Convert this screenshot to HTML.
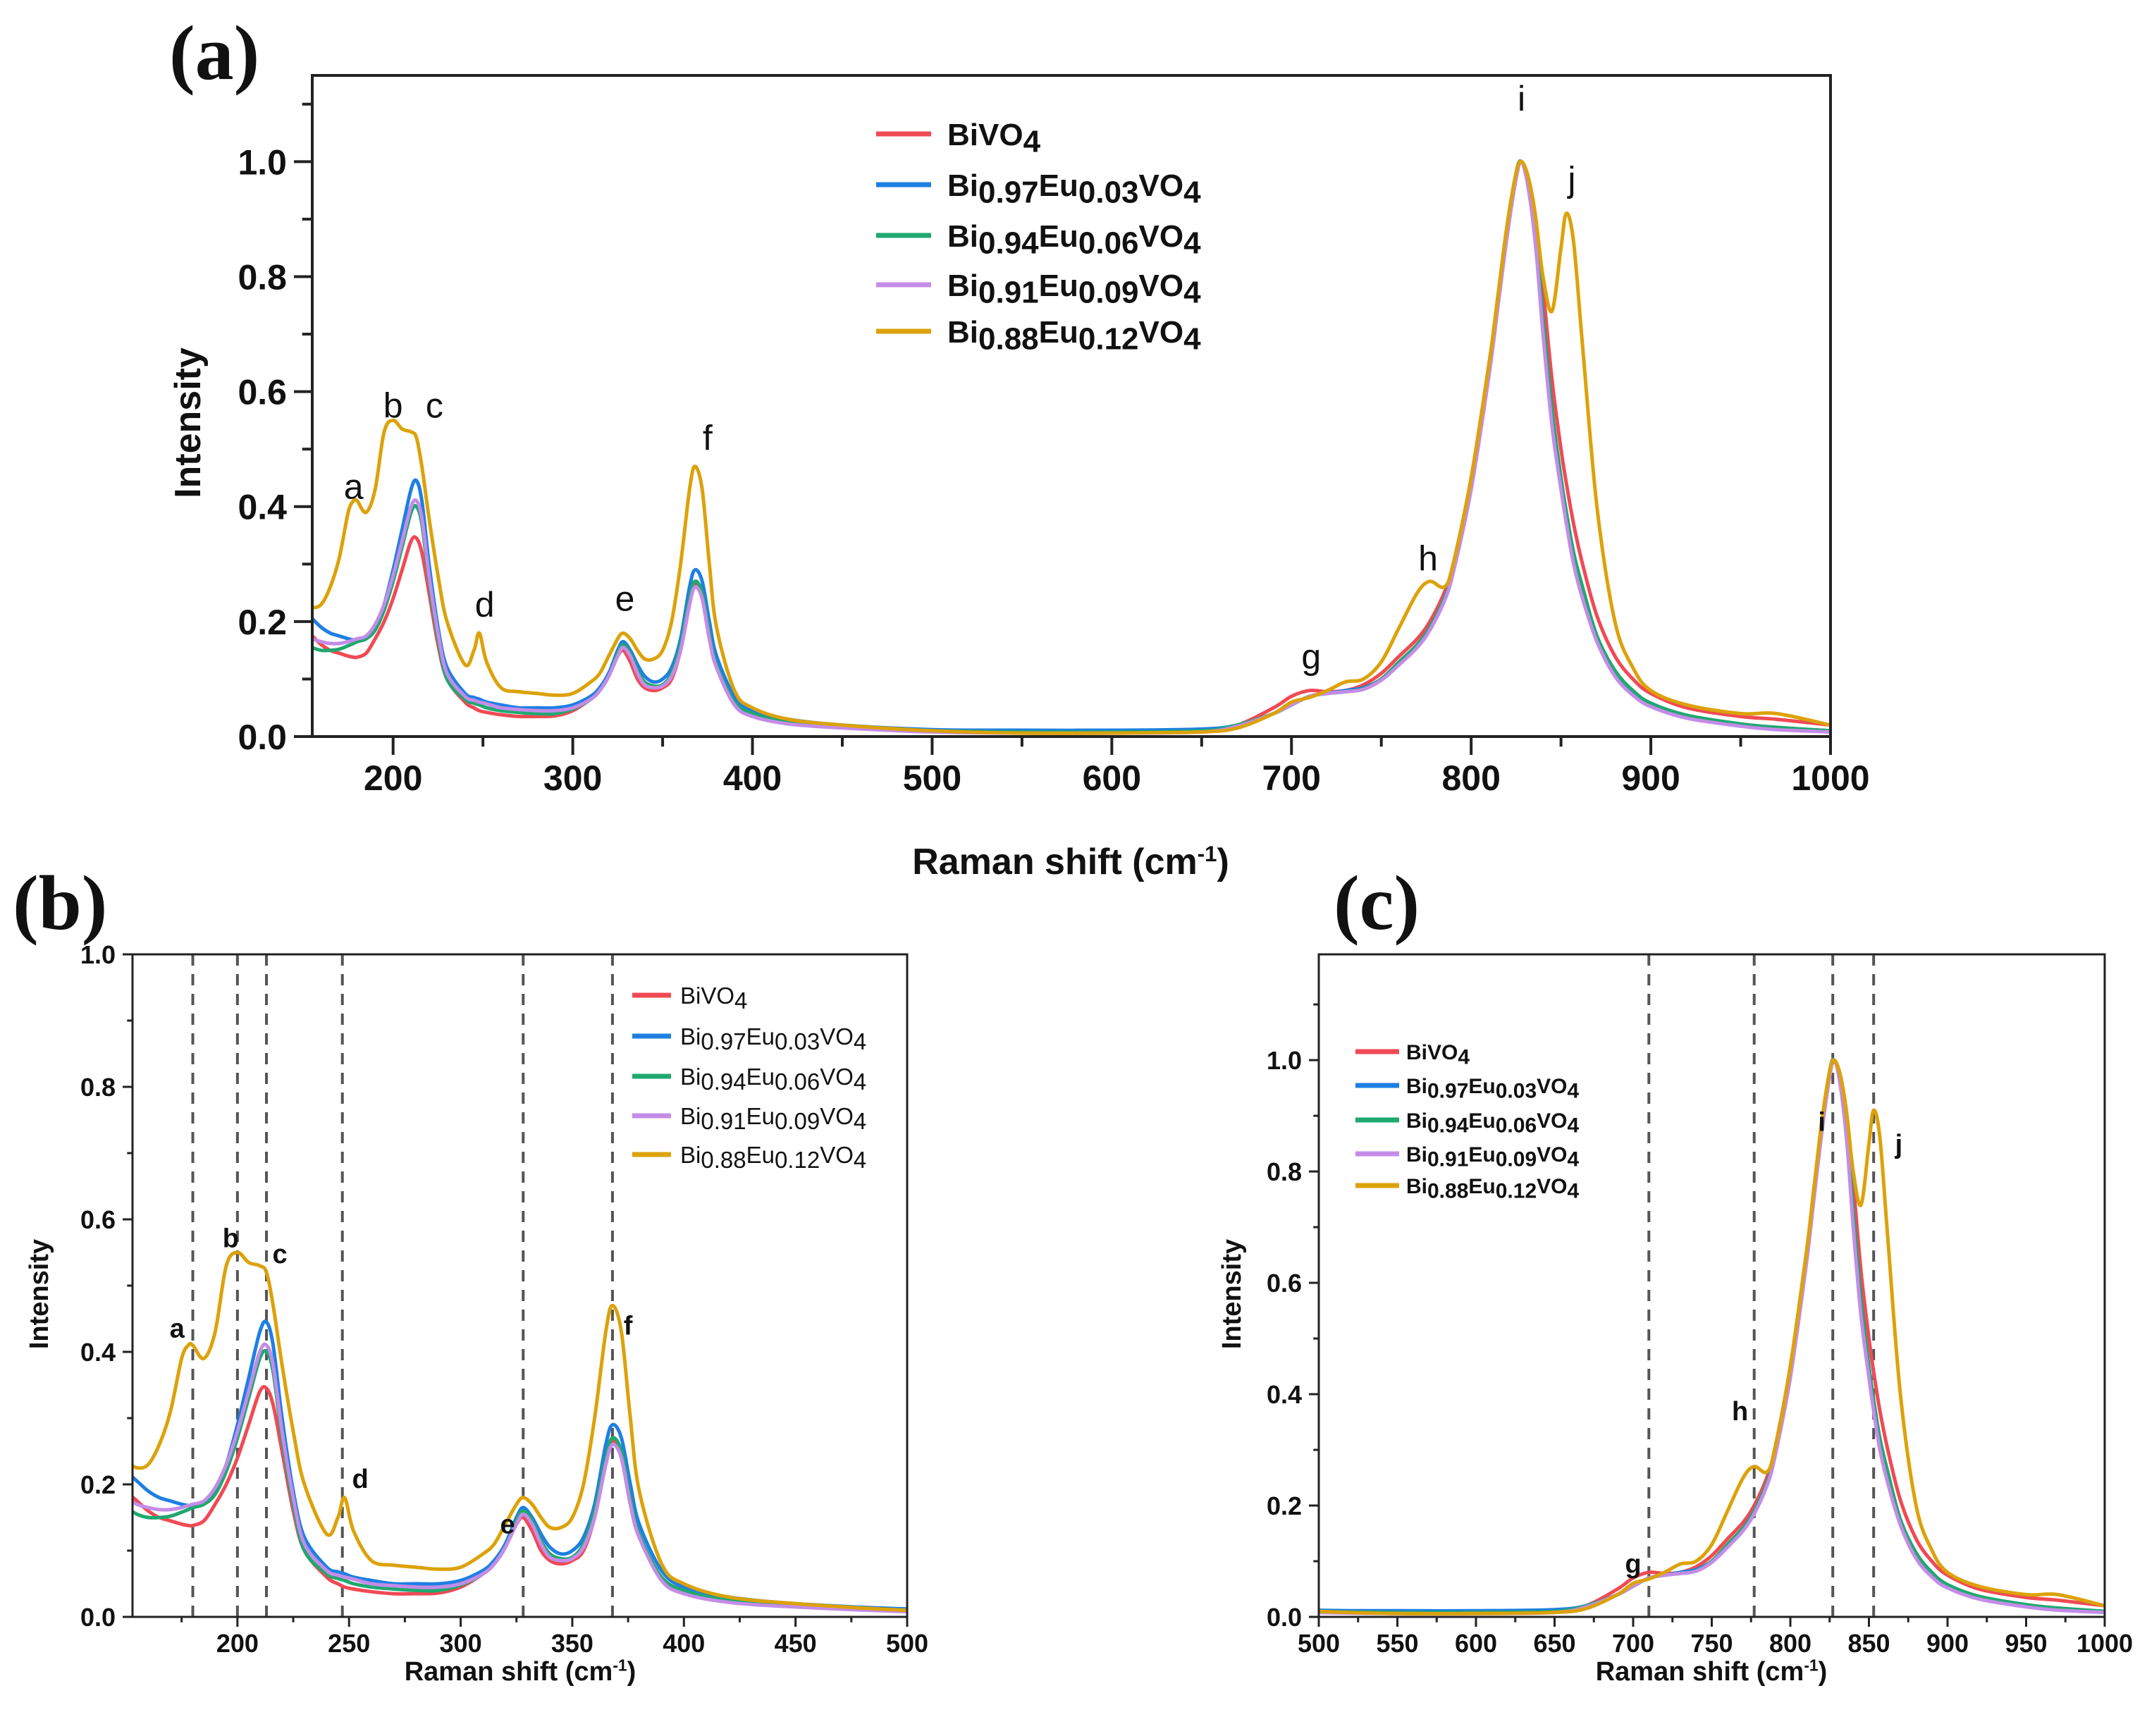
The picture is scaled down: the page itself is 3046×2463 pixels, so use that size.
<!DOCTYPE html>
<html><head><meta charset="utf-8"><style>
html,body{margin:0;padding:0;background:#fff;}
svg{display:block;font-family:"Liberation Sans",Arial,sans-serif;}
</style></head><body>
<svg id="fig" width="3046" height="2463" viewBox="0 0 3046 2463" xmlns="http://www.w3.org/2000/svg"></svg>
<script>
const xs = [150,155,160,165,170,175,178,180,185,190,195,200,205,210,213,216,220,225,230,240,245,248,252,260,270,280,290,300,310,315,320,325,328,332,336,340,345,350,355,360,365,368,372,376,380,390,400,420,450,500,550,600,650,670,690,700,710,720,730,740,750,760,770,777,785,790,800,810,815,820,825,828,832,836,840,845,850,853,857,862,870,880,890,900,920,950,970,1000];
const seriesNames = ["BiVO4","Bi0.97Eu0.03VO4","Bi0.94Eu0.06VO4","Bi0.91Eu0.09VO4","Bi0.88Eu0.12VO4"];
const redVals = [0.19,0.175,0.16,0.15,0.145,0.14,0.138,0.138,0.145,0.17,0.2,0.24,0.29,0.34,0.345,0.32,0.25,0.16,0.1,0.06,0.05,0.045,0.042,0.038,0.035,0.035,0.036,0.045,0.065,0.08,0.11,0.14,0.15,0.13,0.1,0.085,0.08,0.085,0.1,0.15,0.23,0.265,0.24,0.17,0.12,0.06,0.04,0.025,0.018,0.01,0.008,0.008,0.01,0.02,0.05,0.07,0.08,0.078,0.08,0.09,0.11,0.14,0.17,0.2,0.25,0.3,0.45,0.65,0.76,0.88,0.98,1.0,0.97,0.9,0.78,0.62,0.5,0.44,0.37,0.3,0.21,0.14,0.1,0.075,0.05,0.035,0.03,0.02];
const blueVals = [0.22,0.205,0.19,0.18,0.175,0.17,0.168,0.168,0.17,0.19,0.23,0.29,0.36,0.43,0.445,0.41,0.3,0.19,0.12,0.075,0.068,0.065,0.06,0.055,0.05,0.05,0.05,0.055,0.07,0.085,0.11,0.15,0.165,0.15,0.125,0.105,0.095,0.1,0.12,0.17,0.26,0.29,0.27,0.2,0.14,0.07,0.045,0.03,0.02,0.012,0.011,0.011,0.013,0.02,0.04,0.055,0.07,0.075,0.08,0.085,0.1,0.13,0.16,0.19,0.24,0.29,0.44,0.64,0.76,0.88,0.98,1.0,0.96,0.86,0.72,0.56,0.44,0.38,0.31,0.25,0.17,0.11,0.075,0.055,0.035,0.02,0.015,0.01];
const greenVals = [0.165,0.155,0.15,0.15,0.152,0.158,0.162,0.165,0.17,0.185,0.22,0.27,0.33,0.39,0.40,0.37,0.27,0.17,0.1,0.065,0.058,0.055,0.05,0.045,0.042,0.04,0.04,0.048,0.065,0.08,0.105,0.145,0.16,0.145,0.115,0.095,0.088,0.09,0.11,0.16,0.24,0.27,0.25,0.18,0.125,0.06,0.04,0.025,0.017,0.01,0.008,0.008,0.01,0.02,0.04,0.055,0.07,0.075,0.078,0.083,0.1,0.13,0.16,0.19,0.24,0.29,0.44,0.64,0.76,0.88,0.98,1.0,0.96,0.87,0.73,0.57,0.45,0.39,0.32,0.26,0.175,0.115,0.08,0.058,0.037,0.022,0.016,0.01];
const purpleVals = [0.18,0.17,0.165,0.162,0.162,0.165,0.168,0.17,0.175,0.195,0.23,0.28,0.34,0.40,0.41,0.38,0.28,0.18,0.11,0.07,0.063,0.06,0.057,0.05,0.047,0.045,0.045,0.05,0.065,0.08,0.105,0.14,0.155,0.14,0.11,0.09,0.085,0.088,0.105,0.15,0.23,0.26,0.24,0.17,0.12,0.055,0.035,0.022,0.015,0.008,0.006,0.006,0.008,0.018,0.04,0.055,0.07,0.075,0.078,0.082,0.098,0.125,0.155,0.185,0.235,0.285,0.43,0.63,0.75,0.87,0.97,1.0,0.95,0.85,0.7,0.54,0.43,0.37,0.3,0.24,0.165,0.105,0.072,0.052,0.032,0.018,0.012,0.008];
const goldVals = [0.235,0.225,0.23,0.26,0.31,0.39,0.41,0.41,0.39,0.43,0.53,0.55,0.535,0.53,0.52,0.47,0.38,0.28,0.2,0.125,0.15,0.18,0.13,0.085,0.078,0.075,0.072,0.075,0.095,0.11,0.14,0.17,0.18,0.17,0.15,0.135,0.135,0.15,0.2,0.3,0.43,0.47,0.43,0.3,0.19,0.08,0.05,0.03,0.02,0.01,0.006,0.006,0.008,0.015,0.04,0.06,0.068,0.08,0.095,0.1,0.13,0.19,0.25,0.27,0.26,0.3,0.45,0.65,0.77,0.89,0.98,1.0,0.97,0.9,0.8,0.74,0.85,0.91,0.86,0.68,0.4,0.2,0.12,0.08,0.055,0.04,0.04,0.02];
const peakLetters = ["a","b","c","d","e","f","g","h","i","j"];
const peakLabelXA = [178,200,223,251,329,375,711,776,828,856];
const peakLabelYA = [0.435,0.576,0.576,0.23,0.24,0.52,0.14,0.31,1.11,0.97];
const peakLabelXB = [173,197,219,255,321,375];
const peakLabelYB = [0.436,0.572,0.548,0.209,0.14,0.44];
const peakLabelXC = [700,768,820,869];
const peakLabelYC = [0.096,0.37,0.89,0.85];
const dashB = [180,200,213,247,328,368];
const dashC = [710,777,827,853];
const yTicksA = ["0.0","0.2","0.4","0.6","0.8","1.0"];
const xTicksA = [200,300,400,500,600,700,800,900,1000];
const yTicksBC = ["0.0","0.2","0.4","0.6","0.8","1.0"];
const xTicksB = [200,250,300,350,400,450,500];
const xTicksC = [500,550,600,650,700,750,800,850,900,950,1000];

const colors = ["#f04a55","#1e7fe3","#1fa870","#c48ce8","#dca20a"];
const allVals = [redVals,blueVals,greenVals,purpleVals,goldVals];
const NS = "http://www.w3.org/2000/svg";
const svg = document.getElementById('fig');
function mk(tag, attrs, parent){const e=document.createElementNS(NS,tag);for(const k in attrs)e.setAttribute(k,attrs[k]);(parent||svg).appendChild(e);return e;}

function smoothPath(pts){
  let d="M"+pts[0][0].toFixed(1)+","+pts[0][1].toFixed(1);
  for(let i=0;i<pts.length-1;i++){
    const p0=pts[Math.max(0,i-1)],p1=pts[i],p2=pts[i+1],p3=pts[Math.min(pts.length-1,i+2)];
    const c1x=p1[0]+(p2[0]-p0[0])/6,c1y=p1[1]+(p2[1]-p0[1])/6;
    const c2x=p2[0]-(p3[0]-p1[0])/6,c2y=p2[1]-(p3[1]-p1[1])/6;
    d+=" C"+c1x.toFixed(1)+","+c1y.toFixed(1)+" "+c2x.toFixed(1)+","+c2y.toFixed(1)+" "+p2[0].toFixed(1)+","+p2[1].toFixed(1);
  }
  return d;
}

function legendText(g, x, y, name, fs, bold){
  const t=mk('text',{x:x,y:y,'font-size':fs,'font-weight':bold?'bold':'normal',fill:'#111'},g);
  
  
  const parts = name==="BiVO4" ? [["BiVO",0],["4",1]] :
    [["Bi",0],[name.substr(2,4),1],["Eu",0],[name.substr(8,4),1],["VO",0],["4",1]];
  let state=0;
  parts.forEach(p=>{
    const ts=mk('tspan',{},t);
    const shift=fs*0.22;
    if(p[1]&&!state){ts.setAttribute('dy',shift);state=1;}
    else if(!p[1]&&state){ts.setAttribute('dy',-shift);state=0;}
    ts.textContent=p[0];
  });
}

function panel(cfg){
  const g=mk('g',{});
  
  
  const X=v=>cfg.L+(v-cfg.xmin)/(cfg.xmax-cfg.xmin)*(cfg.R-cfg.L);
  const Y=v=>cfg.B-(v-cfg.ymin)/(cfg.ymax-cfg.ymin)*(cfg.B-cfg.T);
  const cid='clip-'+cfg.name;
  const defs=mk('defs',{},g);
  const cp=mk('clipPath',{id:cid},defs);
  mk('rect',{x:cfg.L,y:cfg.T,width:cfg.R-cfg.L,height:cfg.B-cfg.T},cp);
  // dashed lines
  (cfg.dash||[]).forEach(v=>{
    const l=mk('line',{x1:X(v),x2:X(v),y1:cfg.T,y2:cfg.B,stroke:'#555','stroke-width':4,'stroke-dasharray':'16,12'},g);
    
    
  });
  // series
  const sg=mk('g',{'clip-path':'url(#'+cid+')'},g);
  allVals.forEach((vals,si)=>{
    const pts=xs.map((x,i)=>[X(x),Y(vals[i])]);
    const p=mk('path',{d:smoothPath(pts),fill:'none',stroke:colors[si],'stroke-width':cfg.lw,'stroke-linejoin':'round'},sg);
    
    
  });
  // frame
  const fr=mk('rect',{x:cfg.L,y:cfg.T,width:cfg.R-cfg.L,height:cfg.B-cfg.T,fill:'none',stroke:'#222','stroke-width':cfg.aw},g);
  
  
  // y ticks
  for(let v=0;v<=cfg.ymax+1e-9;v+=0.1){
    const major=Math.round(v*10)%2===0;
    mk('line',{x1:cfg.L,x2:cfg.L-(major?cfg.tk:cfg.tk*0.55),y1:Y(v),y2:Y(v),stroke:'#222','stroke-width':cfg.aw},g);
  }
  cfg.yTicks.forEach(s=>{
    const t=mk('text',{x:cfg.L-cfg.tk-10,y:Y(parseFloat(s))+cfg.tfs*0.36,'text-anchor':'end','font-size':cfg.tfs,'font-weight':'bold',fill:'#111'},g);
    
    
    t.textContent=s;
  });
  // x ticks
  const step=cfg.xStep;
  for(let v=Math.ceil(cfg.xmin/(step/2))*(step/2);v<=cfg.xmax+1e-9;v+=step/2){
    const major=Math.abs(v/step-Math.round(v/step))<1e-6;
    mk('line',{x1:X(v),x2:X(v),y1:cfg.B,y2:cfg.B+(major?cfg.tk:cfg.tk*0.55),stroke:'#222','stroke-width':cfg.aw},g);
  }
  cfg.xTicks.forEach(v=>{
    const t=mk('text',{x:X(v),y:cfg.B+cfg.tk+cfg.tfs*1.0,'text-anchor':'middle','font-size':cfg.tfs,'font-weight':'bold',fill:'#111'},g);
    
    
    t.textContent=v;
  });
  // axis titles
  const xt=mk('text',{x:cfg.xtx,y:cfg.xty,'text-anchor':'middle','font-size':cfg.afs,'font-weight':'bold',fill:'#111'},g);
  
  
  xt.appendChild(document.createTextNode('Raman shift (cm'));
  const sup=mk('tspan',{dy:-cfg.afs*0.35,'font-size':cfg.afs*0.6},xt);sup.textContent='-1';
  const cl=mk('tspan',{dy:cfg.afs*0.35},xt);cl.textContent=')';
  const yt=mk('text',{x:0,y:0,transform:'translate('+cfg.ytx+','+cfg.yty+') rotate(-90)','text-anchor':'middle','font-size':cfg.afs,'font-weight':'bold',fill:'#111'},g);
  
  
  yt.textContent='Intensity';
  // peak letters
  cfg.lx.forEach((v,i)=>{
    const t=mk('text',{x:X(v),y:Y(cfg.ly[i])+cfg.pfs*0.35,'text-anchor':'middle','font-size':cfg.pfs,'font-weight':cfg.pbold?'bold':'normal',fill:'#111'},g);
    
    
    t.textContent=cfg.letters[i];
  });
  // legend
  const lg=mk('g',{},g);
  
  
  seriesNames.forEach((n,i)=>{
    const y=cfg.legY[i];
    const e=mk('g',{},lg);
    
    
    mk('line',{x1:cfg.legX1,x2:cfg.legX2,y1:y,y2:y,stroke:colors[i],'stroke-width':cfg.lw+2},e);
    legendText(e,cfg.legTX,y+cfg.lfs*0.36,n,cfg.lfs,cfg.lbold);
  });
  // panel label
  const pl=mk('text',{x:cfg.plx,y:cfg.ply,'font-family':'"Liberation Serif",serif','font-weight':'bold','font-size':cfg.plfs,fill:'#111'},g);
  
  
  pl.textContent=cfg.pl;
}

panel({name:'panel-a',L:443,R:2597,T:107,B:1045,xmin:155,xmax:1000,ymin:0,ymax:1.15,lw:5,aw:4,tk:26,tfs:50,afs:52,
  yTicks:yTicksA,xTicks:xTicksA,xStep:100,xtx:1519,xty:1240,ytx:284,yty:600,
  lx:peakLabelXA,ly:peakLabelYA,letters:peakLetters,pfs:50,pbold:false,
  legY:[190,262,334,404,470],legX1:1243,legX2:1321,legTX:1344,lfs:44,lbold:true,
  pl:'(a)',plx:240,ply:112,plfs:110});
panel({name:'panel-b',L:188,R:1287,T:1354,B:2294,xmin:153,xmax:500,ymin:0,ymax:1.0,lw:5,aw:3,tk:14,tfs:36,afs:38,
  yTicks:yTicksBC,xTicks:xTicksB,xStep:50,dash:dashB,xtx:738,xty:2384,ytx:68,yty:1836,
  lx:peakLabelXB,ly:peakLabelYB,letters:peakLetters.slice(0,6),pfs:38,pbold:true,
  legY:[1412,1470,1527,1583,1638],legX1:897,legX2:952,legTX:965,lfs:33,lbold:false,
  pl:'(b)',plx:18,ply:1318,plfs:110});
panel({name:'panel-c',L:1871,R:2986,T:1354,B:2294,xmin:500,xmax:1000,ymin:0,ymax:1.19,lw:5,aw:3,tk:14,tfs:36,afs:38,
  yTicks:yTicksBC,xTicks:xTicksC,xStep:50,dash:dashC,xtx:2428,xty:2384,ytx:1760,yty:1836,
  lx:peakLabelXC,ly:peakLabelYC,letters:peakLetters.slice(6),pfs:38,pbold:true,
  legY:[1492,1540,1589,1637,1682],legX1:1923,legX2:1985,legTX:1995,lfs:30,lbold:true,
  pl:'(c)',plx:1892,ply:1318,plfs:110});
</script>
</body></html>
